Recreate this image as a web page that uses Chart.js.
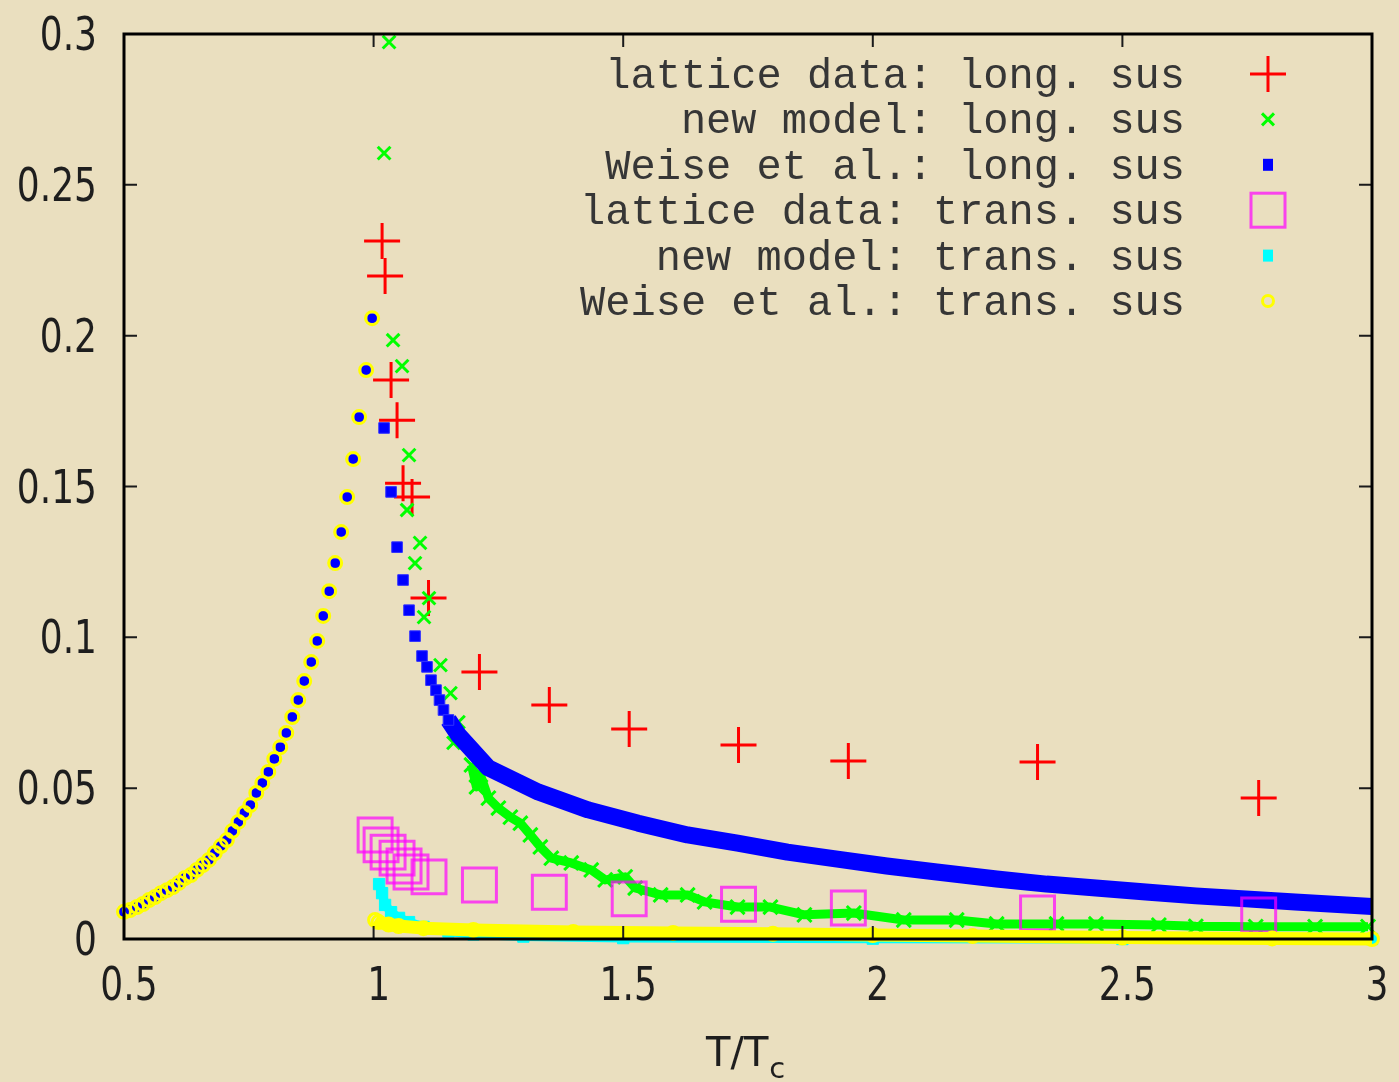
<!DOCTYPE html>
<html>
<head>
<meta charset="utf-8">
<title>Susceptibilities vs T/Tc</title>
<script src="https://cdn.jsdelivr.net/npm/chart.js@4.4.1/dist/chart.umd.min.js"></script>
<style>
  html, body { margin: 0; padding: 0; background: #eadfbf; }
  #wrap { width: 1399px; height: 1082px; position: relative; }
</style>
</head>
<body>
<div id="wrap"><canvas id="susChart"></canvas></div>
<script>
// Susceptibility plot (gnuplot look)

const xTickValues = [0.5, 1, 1.5, 2, 2.5, 3];
const xTickLabels = ['0.5', '1', '1.5', '2', '2.5', '3'];
const yTickValues = [0, 0.05, 0.1, 0.15, 0.2, 0.25, 0.3];
const yTickLabels = ['0', '0.05', '0.1', '0.15', '0.2', '0.25', '0.3'];

const legendLabels = [
    'lattice data: long. sus',
    'new model: long. sus',
    'Weise et al.: long. sus',
    'lattice data: trans. sus',
    'new model: trans. sus',
    'Weise et al.: trans. sus'
];

// lattice data
const tLatticeLong = [1.017, 1.023, 1.035, 1.047, 1.059, 1.077, 1.110, 1.212, 1.352, 1.512, 1.731, 1.951, 2.330, 2.773];
const latticeLong = [0.2314, 0.2198, 0.1853, 0.1720, 0.1511, 0.1465, 0.1130, 0.0885, 0.0776, 0.0696, 0.0643, 0.0590, 0.0587, 0.0467];
const tLatticeTrans = [1.003, 1.015, 1.029, 1.047, 1.061, 1.075, 1.111, 1.212, 1.352, 1.512, 1.731, 1.951, 2.330, 2.773];
const latticeTrans = [0.0345, 0.0312, 0.0288, 0.0268, 0.0242, 0.0222, 0.0206, 0.0179, 0.0155, 0.0133, 0.0115, 0.0103, 0.0086, 0.0080];

// new model, longitudinal: scattered points near Tc, then the dense tail
const tNewLongPeak = [1.031, 1.021, 1.039, 1.057, 1.071, 1.067, 1.093, 1.083, 1.111, 1.101, 1.134, 1.154, 1.160, 1.170];
const newLongPeak = [0.2973, 0.2605, 0.1985, 0.1899, 0.1604, 0.1422, 0.1313, 0.1246, 0.1130, 0.1067, 0.0908, 0.0815, 0.0650, 0.0719];
const tNewLongTail = [1.196, 1.206, 1.214, 1.230, 1.250, 1.274, 1.294, 1.314, 1.334, 1.356, 1.396, 1.436, 1.464, 1.504,
    1.524, 1.575, 1.629, 1.663, 1.729, 1.795, 1.863, 1.962, 2.062, 2.168, 2.248, 2.368, 2.447, 2.573, 2.647, 2.767, 2.886, 2.992];
const newLongTail = [0.0577, 0.0504, 0.0544, 0.0467, 0.0434, 0.0404, 0.0384, 0.0345, 0.0305, 0.0268, 0.0252, 0.0229, 0.0196, 0.0206,
    0.0169, 0.0146, 0.0146, 0.0123, 0.0106, 0.0106, 0.0080, 0.0086, 0.0063, 0.0063, 0.0050, 0.0050, 0.0050, 0.0046, 0.0042, 0.0041, 0.0041, 0.0041];

// Weise et al. below Tc (long. and trans. coincide)
const tWeiseBelow = [0.500, 0.512, 0.526, 0.538, 0.550, 0.562, 0.574, 0.586, 0.598, 0.610, 0.622, 0.634, 0.646, 0.658,
    0.670, 0.682, 0.694, 0.706, 0.717, 0.729, 0.741, 0.753, 0.765, 0.777, 0.789, 0.801, 0.813, 0.825, 0.837, 0.849,
    0.861, 0.875, 0.887, 0.899, 0.911, 0.923, 0.935, 0.947, 0.959, 0.971, 0.985, 0.997];
const weiseBelow = [0.0090, 0.0096, 0.0106, 0.0116, 0.0129, 0.0139, 0.0152, 0.0162, 0.0172, 0.0186, 0.0202, 0.0212, 0.0229, 0.0245,
    0.0262, 0.0285, 0.0308, 0.0328, 0.0358, 0.0388, 0.0418, 0.0444, 0.0484, 0.0517, 0.0554, 0.0597, 0.0636, 0.0683, 0.0736, 0.0792,
    0.0855, 0.0918, 0.0988, 0.1071, 0.1153, 0.1246, 0.1349, 0.1465, 0.1591, 0.1730, 0.1886, 0.2058];

// Weise et al. longitudinal above Tc
const tWeiseLongPeak = [1.021, 1.035, 1.047, 1.059, 1.071, 1.083, 1.097, 1.107, 1.115, 1.125, 1.132, 1.140, 1.150];
const weiseLongPeak = [0.1694, 0.1482, 0.1299, 0.1190, 0.1090, 0.1004, 0.0938, 0.0902, 0.0858, 0.0825, 0.0792, 0.0759, 0.0726];
const tWeiseLongTail = [1.150, 1.170, 1.230, 1.330, 1.430, 1.530, 1.629, 1.729, 1.829, 1.929, 2.028, 2.128, 2.248, 2.348,
    2.447, 2.547, 2.647, 2.747, 2.846, 3.000];
const weiseLongTail = [0.0726, 0.0676, 0.0567, 0.0487, 0.0428, 0.0384, 0.0345, 0.0318, 0.0288, 0.0265, 0.0242, 0.0222, 0.0199, 0.0182,
    0.0169, 0.0156, 0.0143, 0.0133, 0.0123, 0.0108];

// transverse, above Tc
const tNewTrans = [1.011, 1.017, 1.023, 1.035, 1.051, 1.071, 1.100, 1.150, 1.200, 1.300, 1.500, 2.000, 2.500, 3.000];
const newTrans = [0.0182, 0.0152, 0.0113, 0.0089, 0.0070, 0.0056, 0.0040, 0.0025, 0.0015, 0.0008, 0.0003, 0.0001, 0.0000, 0.0000];
const tWeiseTrans = [1.003, 1.010, 1.030, 1.050, 1.100, 1.200, 1.400, 1.600, 1.800, 2.000, 2.200, 2.500, 2.800, 3.000];
const weiseTrans = [0.0063, 0.0056, 0.0048, 0.0043, 0.0036, 0.0030, 0.0023, 0.0020, 0.0017, 0.0013, 0.0010, 0.0005, 0.0002, 0.0000];

const bgColor = '#eadfbf';
const RED = '#ff0000';
const GREEN = '#00ff00';
const BLUE = '#0000ff';
const MAGENTA = 'rgba(255, 0, 255, 0.7)';
const CYAN = '#00ffff';
const YELLOW = '#ffff00';

function pts(xs, ys) {
    return xs.map((x, i) => ({ x: x, y: ys[i] }));
}

function stretchText(ctx, text, x, y, align, sy) {
    ctx.save();
    ctx.translate(x, y);
    ctx.scale(1, sy);
    ctx.textAlign = align;
    ctx.textBaseline = 'alphabetic';
    ctx.fillText(text, 0, 0);
    ctx.restore();
}

// key symbols, drawn the way the datasets draw them
function drawKeySymbol(ctx, i, x, y) {
    ctx.save();
    if (i === 0) {
        ctx.strokeStyle = RED; ctx.lineWidth = 3;
        ctx.beginPath();
        ctx.moveTo(x - 18, y); ctx.lineTo(x + 18, y);
        ctx.moveTo(x, y - 18); ctx.lineTo(x, y + 18);
        ctx.stroke();
    } else if (i === 1) {
        ctx.strokeStyle = GREEN; ctx.lineWidth = 3;
        ctx.beginPath();
        ctx.moveTo(x - 6, y - 6); ctx.lineTo(x + 6, y + 6);
        ctx.moveTo(x - 6, y + 6); ctx.lineTo(x + 6, y - 6);
        ctx.stroke();
    } else if (i === 2) {
        ctx.fillStyle = BLUE;
        ctx.fillRect(x - 5, y - 6, 10, 12);
    } else if (i === 3) {
        ctx.strokeStyle = MAGENTA; ctx.lineWidth = 3;
        ctx.strokeRect(x - 17, y - 17, 34, 34);
    } else if (i === 4) {
        ctx.fillStyle = CYAN;
        ctx.fillRect(x - 5, y - 6, 10, 12);
    } else {
        ctx.strokeStyle = YELLOW; ctx.lineWidth = 3;
        ctx.beginPath();
        ctx.arc(x, y, 5.5, 0, Math.PI * 2);
        ctx.stroke();
    }
    ctx.restore();
}

const gnuplotFrame = {
    id: 'gnuplotFrame',
    beforeDraw(chart) {
        const ctx = chart.ctx;
        ctx.save();
        ctx.fillStyle = bgColor;
        ctx.fillRect(0, 0, chart.width, chart.height);
        ctx.restore();
    },
    afterDraw(chart) {
        const ctx = chart.ctx;
        const area = chart.chartArea;
        const xScale = chart.scales.x;
        const yScale = chart.scales.y;
        const tickLen = 13;

        ctx.save();

        // inward ticks on all four sides
        ctx.strokeStyle = '#1a1a1a';
        ctx.lineWidth = 2;
        ctx.beginPath();
        xTickValues.forEach(v => {
            const px = xScale.getPixelForValue(v);
            ctx.moveTo(px, area.bottom); ctx.lineTo(px, area.bottom - tickLen);
            ctx.moveTo(px, area.top); ctx.lineTo(px, area.top + tickLen);
        });
        yTickValues.forEach(v => {
            const py = yScale.getPixelForValue(v);
            ctx.moveTo(area.left, py); ctx.lineTo(area.left + tickLen, py);
            ctx.moveTo(area.right, py); ctx.lineTo(area.right - tickLen, py);
        });
        ctx.stroke();

        // border
        ctx.strokeStyle = '#000000';
        ctx.lineWidth = 3;
        ctx.strokeRect(area.left, area.top, area.right - area.left, area.bottom - area.top);

        // tick labels
        ctx.fillStyle = '#1e1e1e';
        ctx.font = '36px "DejaVu Sans"';
        xTickValues.forEach((v, i) => {
            stretchText(ctx, xTickLabels[i], xScale.getPixelForValue(v) + 5, area.bottom + 61, 'center', 1.27);
        });
        yTickValues.forEach((v, i) => {
            stretchText(ctx, yTickLabels[i], area.left - 27, yScale.getPixelForValue(v) + 16, 'right', 1.27);
        });

        // axis title T/T_c
        ctx.font = '40px "DejaVu Sans"';
        ctx.textAlign = 'left';
        ctx.textBaseline = 'alphabetic';
        const main = 'T/T';
        const mainW = ctx.measureText(main).width;
        const titleX = (area.left + area.right) / 2 - 42;
        ctx.fillText(main, titleX, 1066);
        ctx.font = '29px "DejaVu Sans"';
        ctx.fillText('c', titleX + mainW + 1, 1078);

        // key, gnuplot style: right-aligned text, symbol to the right
        ctx.font = '42px "Liberation Mono"';
        ctx.fillStyle = '#363636';
        ctx.textAlign = 'right';
        legendLabels.forEach((label, i) => {
            const base = 88 + i * 45.4;
            ctx.fillText(label, 1185, base);
            drawKeySymbol(ctx, i, 1268, base - 14);
        });

        ctx.restore();
    }
};

const ctx = document.getElementById('susChart').getContext('2d');

new Chart(ctx, {
    type: 'scatter',
    plugins: [gnuplotFrame],
    data: {
        datasets: [
            {
                label: legendLabels[0], data: pts(tLatticeLong, latticeLong), order: 6, clip: false,
                pointStyle: 'cross', pointRadius: 18, pointBorderWidth: 3, pointBorderColor: RED
            },
            {
                label: legendLabels[1], data: pts(tNewLongPeak, newLongPeak), order: 5, clip: false,
                pointStyle: 'crossRot', pointRadius: 9, pointBorderWidth: 3, pointBorderColor: GREEN
            },
            {
                label: legendLabels[1], data: pts(tNewLongTail, newLongTail), order: 5, clip: false,
                showLine: true, borderColor: GREEN, borderWidth: 9, borderJoinStyle: 'round', tension: 0,
                pointStyle: 'crossRot', pointRadius: 10, pointBorderWidth: 3, pointBorderColor: GREEN
            },
            {
                label: legendLabels[2], data: pts(tWeiseBelow, weiseBelow), order: 4, clip: false,
                pointStyle: 'rect', pointRadius: 6, pointBorderWidth: 1,
                pointBackgroundColor: BLUE, pointBorderColor: BLUE
            },
            {
                label: legendLabels[2], data: pts(tWeiseLongPeak, weiseLongPeak), order: 4, clip: false,
                pointStyle: 'rect', pointRadius: 7.5, pointBorderWidth: 1,
                pointBackgroundColor: BLUE, pointBorderColor: '#3030ff'
            },
            {
                label: legendLabels[2], data: pts(tWeiseLongTail, weiseLongTail), order: 4, clip: false,
                showLine: true, borderColor: BLUE, borderWidth: 17, borderJoinStyle: 'round', tension: 0,
                pointRadius: 0
            },
            {
                label: legendLabels[3], data: pts(tLatticeTrans, latticeTrans), order: 3, clip: false,
                pointStyle: 'rect', pointRadius: 24, pointBorderWidth: 3,
                pointBackgroundColor: 'rgba(0,0,0,0)', pointBorderColor: MAGENTA
            },
            {
                label: legendLabels[4], data: pts(tNewTrans, newTrans), order: 2, clip: false,
                showLine: true, borderColor: CYAN, borderWidth: 9, borderJoinStyle: 'round', tension: 0,
                pointStyle: 'rect', pointRadius: 8, pointBorderWidth: 1,
                pointBackgroundColor: CYAN, pointBorderColor: CYAN
            },
            {
                label: legendLabels[5], data: pts(tWeiseBelow, weiseBelow), order: 1, clip: false,
                pointStyle: 'circle', pointRadius: 6.5, pointBorderWidth: 3,
                pointBackgroundColor: 'rgba(0,0,0,0)', pointBorderColor: YELLOW
            },
            {
                label: legendLabels[5], data: pts(tWeiseTrans, weiseTrans), order: 1, clip: false,
                showLine: true, borderColor: YELLOW, borderWidth: 13, borderJoinStyle: 'round', tension: 0,
                pointStyle: 'circle', pointRadius: 6.5, pointBorderWidth: 3,
                pointBackgroundColor: 'rgba(0,0,0,0)', pointBorderColor: YELLOW
            }
        ]
    },
    options: {
        responsive: true,
        maintainAspectRatio: false,
        devicePixelRatio: 1,
        animation: false,
        events: [],
        layout: { padding: { top: 34, right: 18, left: 0, bottom: 0 } },
        plugins: {
            legend: { display: false },
            tooltip: { enabled: false }
        },
        scales: {
            x: {
                type: 'linear', min: 0.5, max: 3,
                grid: { display: false, drawTicks: false },
                border: { display: false },
                ticks: { display: false },
                afterFit: scale => { scale.height = 143; }
            },
            y: {
                type: 'linear', min: 0, max: 0.3,
                grid: { display: false, drawTicks: false },
                border: { display: false },
                ticks: { display: false },
                afterFit: scale => { scale.width = 124; }
            }
        }
    }
});
</script>
</body>
</html>
